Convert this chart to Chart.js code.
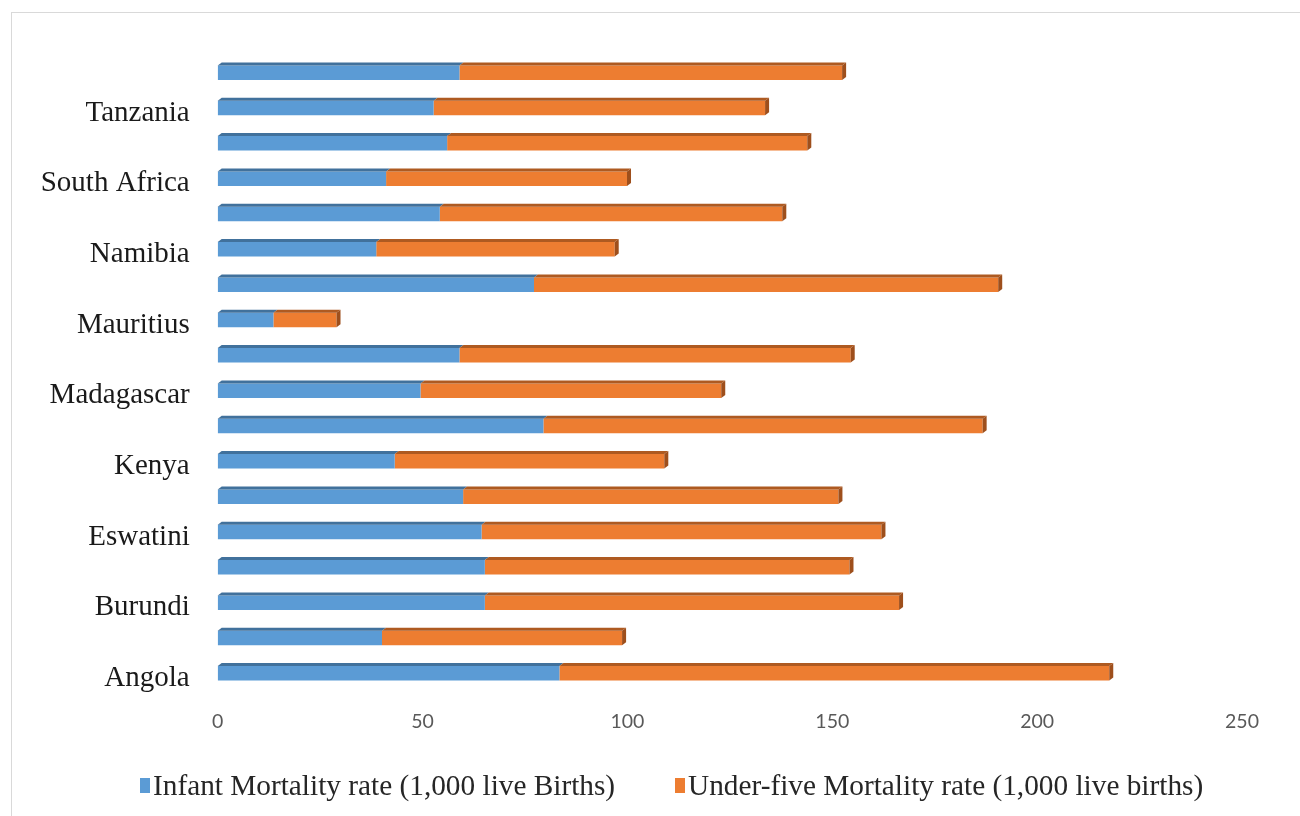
<!DOCTYPE html>
<html>
<head>
<meta charset="utf-8">
<script src="https://cdn.jsdelivr.net/npm/chart.js@4/dist/chart.umd.min.js"></script>
<style>
  html, body { margin: 0; padding: 0; background: #fff; }
  body { width: 1300px; height: 816px; position: relative; overflow: hidden; }
  #frame { position: absolute; left: 11px; top: 12px; width: 1400px; height: 900px;
           border-left: 1px solid #d9d9d9; border-top: 1px solid #d9d9d9; }
  #chart { position: absolute; left: 0; top: 0; }
  .legend { position: absolute; top: 770px; height: 30px; display: flex; align-items: center;
            font-family: 'Times New Roman', 'Liberation Serif', serif; font-size: 29.3px; color: #262626;
            white-space: nowrap; }
  .legend .key { display: inline-block; width: 10px; height: 15px; margin-right: 3px; }
</style>
</head>
<body>
<div id="frame"></div>
<canvas id="chart" width="1300" height="816"></canvas>
<div class="legend" id="legInfant" style="left:140px"><span class="key" style="background:#5B9BD5"></span><span>Infant Mortality rate (1,000 live Births)</span></div>
<div class="legend" id="legUnder5" style="left:675px"><span class="key" style="background:#ED7D31"></span><span>Under-five Mortality rate (1,000 live births)</span></div>
<script>
// Countries, listed from the bottom bar upwards
const countries = ['Angola', 'Botswana', 'Burundi', 'Comoros', 'Eswatini', 'Ethiopia', 'Kenya', 'Lesotho',
  'Madagascar', 'Malawi', 'Mauritius', 'Mozambique', 'Namibia', 'Rwanda', 'South Africa', 'South Sudan',
  'Tanzania', 'Zambia'];

// Infant mortality rate per 1,000 live births
const infantRate = [83.4, 40.1, 65.2, 65.2, 64.4, 59.9, 43.2, 79.5, 49.5, 59.0, 13.6, 77.2, 38.7, 54.2,
  41.1, 56.0, 52.7, 59.0];

// Under-five mortality rate per 1,000 live births (stacked after the infant rate)
const underFiveRate = [134.2, 58.6, 101.1, 89.0, 97.6, 91.6, 65.8, 107.2, 73.4, 95.5, 15.4, 113.3, 58.2,
  83.6, 58.8, 87.9, 80.9, 93.4];

// Value axis ticks
const axisTicks = [0, 50, 100, 150, 200, 250];

const seriesNames = ['Infant Mortality rate (1,000 live Births)', 'Under-five Mortality rate (1,000 live births)'];

// Bevelled top and end faces that give the bars their 3-D look
const bevel = {
  id: 'bevel',
  afterDatasetsDraw(chart) {
    const ctx = chart.ctx;
    const dx = 4, dy = 3;
    const tops = ['#41719C', '#AE5A21'];
    const lastIdx = chart.data.datasets.length - 1;
    chart.data.datasets.forEach((ds, di) => {
      const meta = chart.getDatasetMeta(di);
      meta.data.forEach(bar => {
        const p = bar.getProps(['x', 'y', 'base', 'height'], true);
        const t = p.y - p.height / 2, b = p.y + p.height / 2;
        const l = Math.min(p.base, p.x), r = Math.max(p.base, p.x);
        ctx.save();
        ctx.fillStyle = tops[di];
        ctx.beginPath();
        ctx.moveTo(l, t);
        ctx.lineTo(r, t);
        ctx.lineTo(r + dx, t - dy);
        ctx.lineTo(l + dx, t - dy);
        ctx.closePath();
        ctx.fill();
        if (di === lastIdx) {
          ctx.fillStyle = '#9E4F1C';
          ctx.beginPath();
          ctx.moveTo(r, t);
          ctx.lineTo(r + dx, t - dy);
          ctx.lineTo(r + dx, b - dy);
          ctx.lineTo(r, b);
          ctx.closePath();
          ctx.fill();
        }
        ctx.restore();
      });
    });
  }
};

new Chart(document.getElementById('chart'), {
  type: 'bar',
  data: {
    labels: countries,
    datasets: [
      { label: seriesNames[0], data: infantRate, backgroundColor: '#5B9BD5' },
      { label: seriesNames[1], data: underFiveRate, backgroundColor: '#ED7D31' }
    ]
  },
  options: {
    indexAxis: 'y',
    responsive: false,
    devicePixelRatio: 1,
    animation: false,
    layout: { padding: { top: 55, right: 58, bottom: 65, left: 0 } },
    datasets: { bar: { categoryPercentage: 1, barPercentage: 0.41 } },
    plugins: {
      legend: { display: false },
      tooltip: { enabled: false }
    },
    scales: {
      x: {
        stacked: true,
        min: axisTicks[0],
        max: axisTicks[axisTicks.length - 1],
        afterBuildTicks(scale) { scale.ticks = axisTicks.map(v => ({ value: v })); },
        afterFit(scale) { scale.height = 60; },
        grid: { display: false },
        border: { display: false },
        ticks: {
          padding: 11,
          color: '#595959',
          font: { family: "Lato, 'Open Sans', sans-serif", size: 19.5 }
        }
      },
      y: {
        stacked: true,
        reverse: true,
        afterFit(scale) { scale.width = 217.7; },
        grid: { display: false },
        border: { display: false },
        ticks: {
          autoSkip: false,
          padding: 20,
          labelOffset: 5,
          color: '#1a1a1a',
          font: { family: "'Times New Roman', 'Liberation Serif', serif", size: 29 },
          callback(value, index) { return index % 2 === 0 ? countries[index] : ''; }
        }
      }
    }
  },
  plugins: [bevel]
});
</script>
</body>
</html>
